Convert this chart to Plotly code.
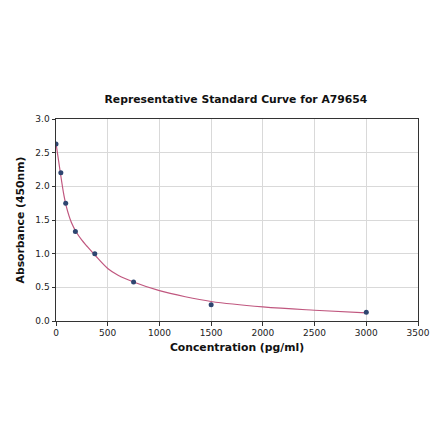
import plotly.graph_objects as go

# standard points
conc = [0, 46.875, 93.75, 187.5, 375, 750, 1500, 3000]
absorb = [2.63, 2.2, 1.75, 1.33, 1.0, 0.58, 0.24, 0.13]

# fitted curve
curve_x = [0, 25, 50, 75, 100, 150, 200, 250, 300, 375, 500, 600, 750, 1000, 1250, 1500, 2000, 2500, 3000]
curve_y = [2.64, 2.38, 2.12, 1.88, 1.70, 1.46, 1.31, 1.20, 1.11, 0.98, 0.78, 0.68, 0.58, 0.45, 0.36, 0.29, 0.21, 0.16, 0.12]

x_ticks = [0, 500, 1000, 1500, 2000, 2500, 3000, 3500]
y_ticks = [0.0, 0.5, 1.0, 1.5, 2.0, 2.5, 3.0]

fig = go.Figure()
fig.add_trace(go.Scatter(x=curve_x, y=curve_y, mode="lines", line=dict(color="#c0577f", width=1.2, shape="spline"), hoverinfo="skip"))
fig.add_trace(go.Scatter(x=conc, y=absorb, mode="markers", marker=dict(color="#2e4570", size=5)))

axis_style = dict(
    showline=True, linecolor="#333333", linewidth=1, mirror=True,
    showgrid=True, gridcolor="#d9d9d9", gridwidth=1,
    ticks="outside", ticklen=3.5, tickcolor="#333333",
    tickfont=dict(family="DejaVu Sans", size=9, color="#222222"),
    zeroline=False,
)

# page body adds an 8px offset, margins compensate
fig.update_layout(
    width=440, height=441,
    margin=dict(l=46, r=30, t=111, b=128),
    paper_bgcolor="white", plot_bgcolor="white",
    showlegend=False,
    title=dict(text="<b>Representative Standard Curve for A79654</b>", x=0.518, xanchor="center", y=0.794, yanchor="middle",
               font=dict(family="DejaVu Sans", size=10.8, color="#111111")),
    xaxis=dict(range=[0, 3500], tickvals=x_ticks, ticktext=[str(v) for v in x_ticks],
               title=dict(text="<b>Concentration (pg/ml)</b>", font=dict(family="DejaVu Sans", size=10.8, color="#111111"), standoff=6),
               **axis_style),
    yaxis=dict(range=[0, 3.0], tickvals=y_ticks, ticktext=["%.1f" % v for v in y_ticks],
               title=dict(text="<b>Absorbance (450nm)</b>", font=dict(family="DejaVu Sans", size=10.8, color="#111111"), standoff=8),
               **axis_style),
)

fig.write_html("out.html")
